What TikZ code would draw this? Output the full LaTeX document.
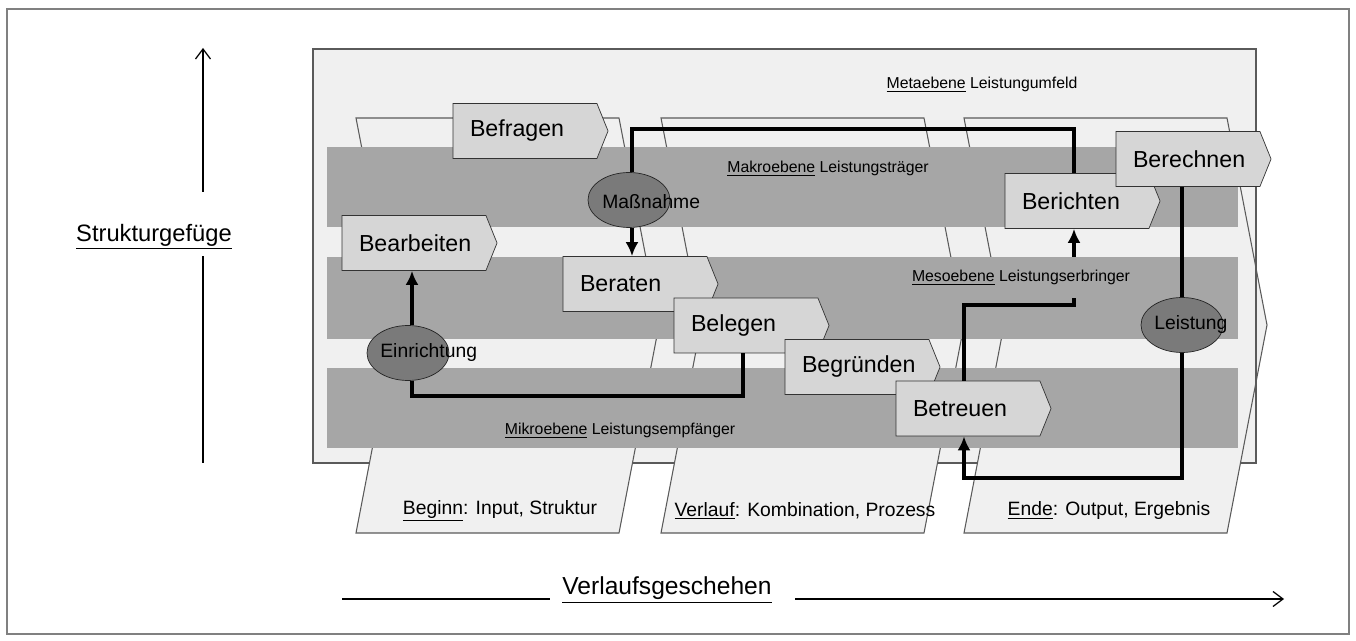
\documentclass[tikz,border=0pt]{standalone}
\usepackage{fontspec}
\setmainfont{Liberation Sans}
\usepackage{tikz}
\usetikzlibrary{arrows.meta,positioning,shapes.geometric,shapes.symbols}
\definecolor{metagray}{HTML}{F0F0F0}
\definecolor{bandgray}{HTML}{A6A6A6}
\definecolor{actgray}{HTML}{D6D6D6}
\definecolor{ovalgray}{HTML}{7A7A7A}
\definecolor{edgegray}{HTML}{5A5A5A}
\tikzset{%
	act/.style        = {signal, signal to=east, signal pointer angle=136, draw=black!80, fill=actgray, minimum width=3.1cm, minimum height=1.1cm, text width=2.2cm, align=left, inner xsep=0.26cm, font=\fontsize{13.2}{15}\selectfont}, % Aktivitaet
	oval/.style       = {ellipse, draw=black!85, fill=ovalgray, minimum width=1.64cm, minimum height=1.1cm, inner sep=0pt}, % Ereignis
	ovaltext/.style   = {anchor=west, inner sep=0pt, font=\fontsize{11}{12}\selectfont},
	band/.style       = {fill=bandgray}, % Ebene
	bandlabel/.style  = {inner sep=1pt, font=\fontsize{9}{11}\selectfont},
	phase/.style      = {draw=edgegray, fill=metagray, line width=0.6pt}, % Phase
	phaselabel/.style = {inner sep=1pt, font=\fontsize{11}{13}\selectfont},
	conn/.style       = {line width=1.8pt, black},
	axis/.style       = {line width=0.7pt},
}

\begin{document}
\begin{tikzpicture}[x=0.02cm,y=-0.02cm,>={Latex[length=0.28cm,width=0.26cm]}]
	\useasboundingbox (0,0) rectangle (1356,641);
	\fill[white] (0,0) rectangle (1356,641);
	\draw[gray,line width=0.6pt] (7,9) rectangle (1349,634);

	% Metaebene und Phasen
	\draw[fill=metagray,draw=edgegray,line width=1pt] (313,49) rectangle (1256,463);
	\foreach \x in {356,661,964}
		\draw[phase] (\x,118) -- ++(263,0) -- ++(40,207) -- ++(-40,208) -- ++(-263,0) -- ++(40,-208) -- cycle;
	\draw[draw=edgegray,line width=1pt] (1256,49) -- (1256,463);

	% Ebenen
	\fill[band] (327,147) rectangle (1238,227);
	\fill[band] (327,257) rectangle (1238,339);
	\fill[band] (327,368) rectangle (1238,448);

	\node[bandlabel] (meta) at (982,85) {\underline{Metaebene} Leistungumfeld};
	\node[bandlabel] (makro) at (828,169) {\underline{Makroebene} Leistungsträger};
	\node[bandlabel] (mikro) at (620,431) {\underline{Mikroebene} Leistungsempfänger};

	\node[phaselabel] (beginn) at (500,511) {\underline{Beginn}: Input, Struktur};
	\node[phaselabel] (verlauf) at (805,511) {\underline{Verlauf}: Kombination, Prozess};
	\node[phaselabel] (ende) at (1109,511) {\underline{Ende}: Output, Ergebnis};

	% Aktivitaeten
	\node[act] (befragen) at (525,131) {Befragen};
	\node[act] (bearbeiten) at (414,243) {Bearbeiten};
	\node[act] (beraten) at (635,284) {Beraten};
	\node[act] (belegen) at ([shift={(111,41.5)}]beraten) {Belegen};
	\node[act] (begruenden) at ([shift={(111,41.5)}]belegen) {Begründen};
	\node[act] (betreuen) at ([shift={(111,41.5)}]begruenden) {Betreuen};
	\node[act] (berichten) at (1077,201) {Berichten};
	\node[act] (berechnen) at (1188,159) {Berechnen};

	% Ereignisse
	\node[oval] (massn) at (629,200) {};
	\node[oval] (einr) at (408,353) {};
	\node[oval] (leist) at (1182,325) {};

	\coordinate (topy) at (0,129);
	\coordinate (mesoy) at (0,305);
	\coordinate (mikroy) at (0,396);
	\coordinate (boty) at (0,478);

	\draw[conn] ([xshift=0.06cm]massn.north) |- ([xshift=-0.06cm]berichten.north |- topy) -- ([xshift=-0.06cm]berichten.north);
	\draw[conn,->] ([xshift=0.06cm]massn.south) -- ([xshift=0.06cm]massn.south |- beraten.north);
	\draw[conn,->] ([xshift=0.08cm]einr.north) -- ([xshift=0.08cm]einr.north |- bearbeiten.south);
	\draw[conn] ([xshift=-0.06cm]belegen.south) |- ([xshift=0.08cm]einr.south |- mikroy) -- ([xshift=0.08cm]einr.south);
	\draw[conn,->] ([xshift=-0.08cm]betreuen.north) |- ([xshift=-0.06cm]berichten.south |- mesoy) -- ([xshift=-0.06cm]berichten.south);
	\draw[conn] (leist.north |- berechnen.south) -- (leist.north);
	\draw[conn,->] (leist.south) |- ([xshift=-0.08cm]betreuen.south |- boty) -- ([xshift=-0.08cm]betreuen.south);

	\node[bandlabel,fill=bandgray,minimum height=0.82cm] (meso) at (1021,277.5) {\underline{Mesoebene} Leistungserbringer};

	\node[ovaltext] (massntext) at (602,202) {Maßnahme};
	\node[ovaltext] (einrtext) at (380,353) {Einrichtung};
	\node[ovaltext] (leisttext) at (1154,325) {Leistung};

	% Achsen
	\node[font=\fontsize{13.5}{15}\selectfont] (struktur) at (154,237) {\underline{Strukturgefüge}};
	\coordinate (ybot) at (203,463);
	\coordinate (ylow) at (203,256);
	\coordinate (yhigh) at (203,192);
	\coordinate (ytop) at (203,48);
	\draw[axis] (ybot) -- (ylow);
	\draw[axis,-{Straight Barb[length=0.2cm,width=0.3cm]}] (yhigh) -- (ytop);

	\node[font=\fontsize{14}{16}\selectfont] (verlauf) at (667,590) {\underline{Verlaufsgeschehen}};
	\coordinate (xstart) at (342,599);
	\coordinate (xleft) at (550,599);
	\coordinate (xright) at (795,599);
	\coordinate (xend) at (1284,599);
	\draw[axis] (xstart) -- (xleft);
	\draw[axis,-{Straight Barb[length=0.2cm,width=0.3cm]}] (xright) -- (xend);
\end{tikzpicture}
\end{document}
